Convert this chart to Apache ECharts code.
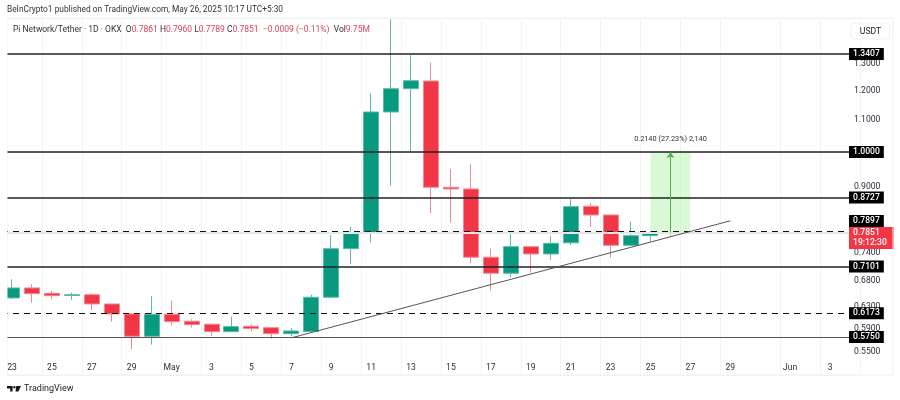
<!DOCTYPE html>
<html><head><meta charset="utf-8">
<style>html,body{margin:0;padding:0;background:#fff}#c{width:900px;height:400px}</style>
<script src="https://cdn.jsdelivr.net/npm/echarts@6/dist/echarts.min.js"></script>
</head><body><div id="c"></div>
<script>
const dates = ["Apr 23","Apr 24","Apr 25","Apr 26","Apr 27","Apr 28","Apr 29","Apr 30","May 1","May 2","May 3","May 4","May 5","May 6","May 7","May 8","May 9","May 10","May 11","May 12","May 13","May 14","May 15","May 16","May 17","May 18","May 19","May 20","May 21","May 22","May 23","May 24","May 25","May 26","May 27","May 28","May 29","May 30","May 31","Jun 1","Jun 2","Jun 3","Jun 4"];
const opens  = [.6463,.6659,.6554,.6510,.6526,.6347,.6161,.5763,.6155,.6028,.5975,.5843,.5938,.5913,.5807,.5845,.6476,.7489,.7857,1.1272,1.2085,1.2366,.8998,.8953,.7299,.6958,.7534,.7371,.7620,.8502,.8283,.7564,.7786,.7861];
const highs  = [.6834,.6733,.6599,.6566,.6554,.6352,.6170,.6500,.6411,.6064,.5980,.6111,.5975,.5918,.5905,.6526,.7802,.7997,1.1920,1.4873,1.3366,1.3063,.9496,.9639,.7489,.7882,.7540,.7779,.8689,.8578,.8290,.8119,.7900,.7960];
const lows   = [.6438,.6372,.6438,.6424,.6235,.6020,.5544,.5621,.5949,.5913,.5769,.5835,.5850,.5722,.5763,.5840,.6470,.7155,.7625,.9041,1.0021,.8326,.8095,.7169,.6605,.6875,.6971,.7240,.7571,.7997,.7290,.7556,.7647,.7789];
const closes = [.6659,.6546,.6507,.6525,.6347,.6161,.5763,.6155,.6020,.5966,.5843,.5931,.5896,.5807,.5855,.6476,.7489,.7857,1.1272,1.2085,1.2377,.8998,.8953,.7299,.6958,.7534,.7371,.7610,.8492,.8283,.7564,.7786,.7861,.7851];
const xTickDates = ["Apr 23","Apr 25","Apr 27","Apr 29","May 1","May 3","May 5","May 7","May 9","May 11","May 13","May 15","May 17","May 19","May 21","May 23","May 25","May 27","May 29","Jun 1","Jun 3"];
const yTicks = [1.4,1.3,1.2,1.1,.9,.74,.68,.63,.59,.55];
const solidLevels = [1.3407,1,.8727,.7101];
const dashedLevels = [.7897,.6173];
const thinLevels = [.575];
const lastPrice = .7851;
const countdown = "19:12:30";
const trendStart = ["May 7",.5735];
const trendEnd = ["May 29",.8140];
const measureFrom = ["May 25",.7860];
const measureTo = ["May 27",1];
const measureMid = "May 26";
const measureText = "0.2140 (27.23%) 2,140";
const publishLine = "BeInCrypto1 published on TradingView.com, May 26, 2025 10:17 UTC+5:30";
const symbolLine = "Pi Network/Tether · 1D · OKX";
const ohlcParts = [["O","0.7861"],["H","0.7960"],["L","0.7789"],["C","0.7851"]];
const changeText = "−0.0009 (−0.11%)";
const volText = "9.75M";

const FONT = "Roboto, 'Open Sans', sans-serif";
const UP = "#089981", DOWN = "#f23645", INK = "#2a2e39";
const candles = dates.slice(0, opens.length).map((d,i)=>[opens[i],closes[i],lows[i],highs[i]]);
const fmtTick = v => { const [m,d] = v.split(" "); return d==="1" ? m : d; };
const levelLabel = (extra) => Object.assign({
  show:true, position:"end", distance:5, offset:[-16,0],
  backgroundColor:"#000", color:"#fff", fontFamily:FONT, fontSize:8.6, fontWeight:500,
  padding:[1.5,4], formatter:p=>p.value.toFixed(4)
}, extra||{});
const mlData = [];
thinLevels.forEach(v=>mlData.push({yAxis:v,lineStyle:{color:"#555",width:1,type:"solid"},label:levelLabel()}));
solidLevels.forEach(v=>mlData.push({yAxis:v,lineStyle:{color:"#222",width:1.5,type:"solid"},label:levelLabel()}));
mlData.push({yAxis:lastPrice,lineStyle:{color:"#e6e6e6",width:2,type:"solid"},label:levelLabel({
  formatter:lastPrice.toFixed(4)+"\n"+countdown,backgroundColor:DOWN,lineHeight:10,padding:[1,7,1,4],offset:[-16,5],color:"#fff"})});
dashedLevels.forEach((v,i)=>mlData.push({yAxis:v,lineStyle:{color:"#111",width:1.2,type:[6,5]},
  label:levelLabel(i===0?{offset:[-16,-10]}:{})}));
mlData.push([{coord:trendStart,symbol:"none",lineStyle:{color:"#555",width:1,type:"solid"},label:{show:false}},{coord:trendEnd,symbol:"none"}]);
mlData.push([{coord:[measureMid,measureFrom[1]],symbol:"none",lineStyle:{color:"#4caf50",width:1,type:"solid"},label:{show:false}},{coord:[measureMid,measureTo[1]],symbol:"arrow",symbolSize:6}]);

const chart = echarts.init(document.getElementById("c"),null,{renderer:"canvas"});
chart.setOption({
  animation:false, backgroundColor:"#fff",
  grid:{left:2,top:18,width:858,height:357,containLabel:false},
  xAxis:{type:"category",data:dates,boundaryGap:true,
    axisLine:{show:false},axisTick:{show:false},
    axisLabel:{color:INK,fontFamily:FONT,fontSize:8.6,margin:-12,
      interval:(i,v)=>xTickDates.includes(v),formatter:fmtTick},
    splitLine:{show:true,lineStyle:{color:"#f3f4f6",width:1},interval:(i,v)=>xTickDates.includes(v)}},
  yAxis:{type:"log",logBase:10,position:"right",min:.5132,max:1.4931,
    axisLine:{show:false},axisTick:{show:false},
    axisLabel:{customValues:yTicks,color:INK,fontFamily:FONT,fontSize:8.6,margin:-6,formatter:v=>(+v).toFixed(4)},
    splitLine:{show:true,lineStyle:{color:"#f3f4f6",width:1}}},
  series:[{type:"candlestick",data:candles,barWidth:15.5,
    itemStyle:{color:UP,color0:DOWN,borderColor:"#5db9a8",borderColor0:"#ee8a95",borderWidth:1,borderColorDoji:"#5db9a8"},
    markArea:{silent:true,itemStyle:{color:"rgba(110,235,90,.26)"},
      label:{show:true,position:"top",distance:9,color:INK,fontFamily:FONT,fontSize:7.3,formatter:measureText},
      data:[[{coord:measureFrom},{coord:measureTo}]]},
    markLine:{silent:true,symbol:"none",animation:false,precision:4,data:mlData}
  }],
  graphic:[
    {type:"rect",z:100,shape:{x:0,y:14,width:7,height:365},style:{fill:"#fff"}},
    {type:"rect",z:90,shape:{x:7,y:18,width:886,height:357},style:{fill:"none",stroke:"#eff0f2",lineWidth:1}},
    {type:"text",z:100,x:7,y:6,style:{text:publishLine,fill:"#333",font:"8.35px "+FONT}},
    {type:"text",z:100,x:13,y:25,style:{
      text:"{k|"+symbolLine+"}  "+ohlcParts.map(p=>"{k|"+p[0]+"}{r|"+p[1]+"}").join(" ")+"  {r|"+changeText+"}  {k|Vol}{r|"+volText+"}",
      font:"8.5px "+FONT,rich:{k:{fill:"#333",font:"8.5px "+FONT},r:{fill:"#d9455a",font:"8.5px "+FONT}}}},
    {type:"rect",z:99,shape:{x:850,y:22,width:41,height:20},style:{fill:"#fff"}},
    {type:"rect",z:100,shape:{x:851,y:23,width:39,height:16,r:4},style:{fill:"#fff",stroke:"#f0f1f3",lineWidth:1}},
    {type:"text",z:101,x:870.5,y:31.5,style:{text:"USDT",fill:"#222",font:"8.6px "+FONT,textAlign:"center",textVerticalAlign:"middle"}},
    {type:"polygon",z:100,shape:{points:[[7,386],[12.6,386],[12.6,391.6],[10.2,391.6],[10.2,388.4],[7,388.4]]},style:{fill:"#131722"}},
    {type:"polygon",z:100,shape:{points:[[16.2,386],[21,386],[18.4,391.6],[15.6,391.6]]},style:{fill:"#131722"}},
    {type:"circle",z:100,shape:{cx:14.4,cy:387.2,r:1.2},style:{fill:"#131722"}},
    {type:"text",z:100,x:24,y:384,style:{text:"TradingView",fill:"#222",font:"9px "+FONT}}
  ]
});
</script></body></html>
